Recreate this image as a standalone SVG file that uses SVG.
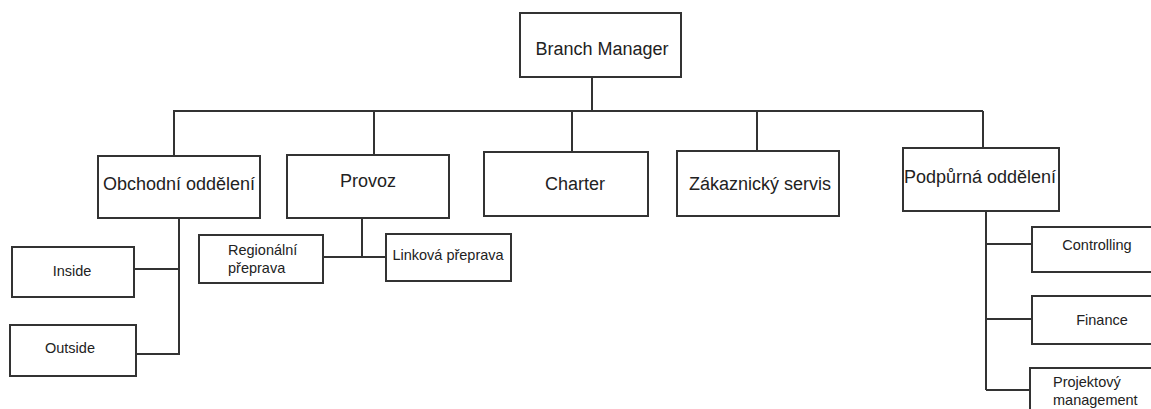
<svg xmlns="http://www.w3.org/2000/svg" width="1151" height="409" viewBox="0 0 1151 409">
<style>
.box{fill:#fff;stroke:#333;stroke-width:2}
.ln{fill:none;stroke:#333;stroke-width:2}
.t{font-family:"Liberation Sans",Arial,sans-serif;fill:#222;text-anchor:middle}
.big{font-size:18px}
.sm{font-size:14.5px}
.l{text-anchor:start}
</style>
<rect width="1151" height="409" fill="#fff"/>
<g id="connectors">
<path class="ln" d="M592 77V111M173 111H983M174 111V156M374 111V155M572 111V152M757 111V151M983 111V148"/>
<path class="ln" d="M179 218V355M134 269H179M136 354H180"/>
<path class="ln" d="M362 218V257M323 257H386"/>
<path class="ln" d="M986 211V390M986 244H1032M986 319H1032M986 390H1030"/>
</g>
<g id="branch-manager"><rect class="box" x="520" y="13" width="161" height="64"/><text class="t big" x="602" y="55">Branch Manager</text></g>
<g id="obchodni"><rect class="box" x="98" y="156" width="162" height="62"/><text class="t big" x="179" y="190">Obchodní oddělení</text></g>
<g id="provoz"><rect class="box" x="287" y="155" width="162" height="63"/><text class="t big" x="368" y="187">Provoz</text></g>
<g id="charter"><rect class="box" x="484" y="152" width="164" height="64"/><text class="t big" x="575" y="190">Charter</text></g>
<g id="zakaznicky"><rect class="box" x="677" y="151" width="162" height="65"/><text class="t big" x="760" y="190">Zákaznický servis</text></g>
<g id="podpurna"><rect class="box" x="903" y="148" width="156" height="63"/><text class="t big" x="980" y="183">Podpůrná oddělení</text></g>
<g id="inside"><rect class="box" x="12" y="247" width="122" height="50"/><text class="t sm" x="72" y="276">Inside</text></g>
<g id="outside"><rect class="box" x="10" y="325" width="126" height="51"/><text class="t sm" x="70" y="353">Outside</text></g>
<g id="regionalni"><rect class="box" x="199" y="235" width="124" height="48"/><text class="t sm l" x="228" y="255">Regionální</text><text class="t sm l" x="228" y="273">přeprava</text></g>
<g id="linkova"><rect class="box" x="386" y="234" width="125" height="47"/><text class="t sm" x="448" y="260">Linková přeprava</text></g>
<g id="controlling"><rect class="box" x="1032" y="227" width="130" height="45"/><text class="t sm" x="1097" y="250">Controlling</text></g>
<g id="finance"><rect class="box" x="1032" y="296" width="130" height="48"/><text class="t sm" x="1102" y="325">Finance</text></g>
<g id="projektovy"><rect class="box" x="1030" y="368" width="132" height="60"/><text class="t sm l" x="1053" y="387">Projektový</text><text class="t sm l" x="1053" y="405">management</text></g>
</svg>
